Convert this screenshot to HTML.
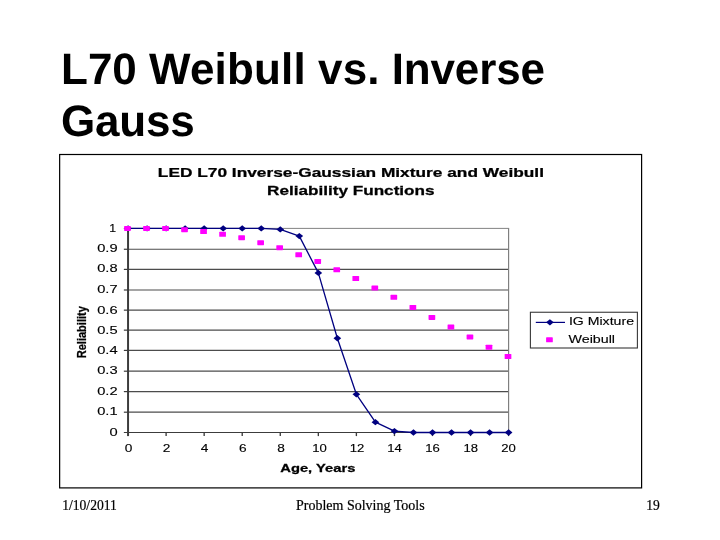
<!DOCTYPE html>
<html><head><meta charset="utf-8">
<style>
html,body{margin:0;padding:0;background:#fff;}
body{width:720px;height:540px;position:relative;overflow:hidden;font-family:"Liberation Sans",sans-serif;}
.t{position:absolute;left:61px;font:bold 44px/50px "Liberation Sans",sans-serif;color:#000;white-space:nowrap;text-rendering:geometricPrecision;}
svg{position:absolute;left:0;top:0;}
svg text{font-family:"Liberation Sans",sans-serif;fill:#000;}
svg text.f{font-family:"Liberation Serif",serif;stroke:#000;stroke-width:0.2px;}
</style></head><body>
<div class="t" style="top:45px">L70 <span style="letter-spacing:0.17px">Weibull</span> <span style="letter-spacing:0.05px">vs.</span> <span style="letter-spacing:-0.14px">Inverse</span></div>
<div class="t" style="top:97px;letter-spacing:-0.2px">Gauss</div>
<svg width="720" height="540" viewBox="0 0 720 540">
<rect x="59.65" y="154.5" width="581.95" height="333.4" fill="#fff" stroke="#000" stroke-width="1.2"/>

<g stroke="#4c4c4c" stroke-width="1.2" fill="none">
<line x1="128.05" y1="412.20" x2="508.60" y2="412.20"/>
<line x1="128.05" y1="391.60" x2="508.60" y2="391.60"/>
<line x1="128.05" y1="371.20" x2="508.60" y2="371.20"/>
<line x1="128.05" y1="350.40" x2="508.60" y2="350.40"/>
<line x1="128.05" y1="330.15" x2="508.60" y2="330.15"/>
<line x1="128.05" y1="310.15" x2="508.60" y2="310.15"/>
<line x1="128.05" y1="290.00" x2="508.60" y2="290.00"/>
<line x1="128.05" y1="269.40" x2="508.60" y2="269.40"/>
<line x1="128.05" y1="249.26" x2="508.60" y2="249.26"/>
<line x1="128.05" y1="228.4" x2="509.15" y2="228.4" stroke="#7c7c7c" stroke-width="0.95"/>
<line x1="508.60" y1="228.4" x2="508.60" y2="432.5" stroke="#7c7c7c" stroke-width="1.15"/>
</g>
<g stroke="#3c3c3c" fill="none">
<line x1="128.05" y1="228.4" x2="128.05" y2="436.1" stroke-width="2.0"/>
<line x1="123.85000000000001" y1="432.5" x2="508.60" y2="432.5" stroke-width="1.15"/>
</g>
<g stroke="#3c3c3c" fill="none">
<line x1="123.85000000000001" y1="412.20" x2="128.05" y2="412.20" stroke-width="1.2"/>
<line x1="123.85000000000001" y1="391.60" x2="128.05" y2="391.60" stroke-width="1.2"/>
<line x1="123.85000000000001" y1="371.20" x2="128.05" y2="371.20" stroke-width="1.2"/>
<line x1="123.85000000000001" y1="350.40" x2="128.05" y2="350.40" stroke-width="1.2"/>
<line x1="123.85000000000001" y1="330.15" x2="128.05" y2="330.15" stroke-width="1.2"/>
<line x1="123.85000000000001" y1="310.15" x2="128.05" y2="310.15" stroke-width="1.2"/>
<line x1="123.85000000000001" y1="290.00" x2="128.05" y2="290.00" stroke-width="1.2"/>
<line x1="123.85000000000001" y1="269.40" x2="128.05" y2="269.40" stroke-width="1.2"/>
<line x1="123.85000000000001" y1="249.26" x2="128.05" y2="249.26" stroke-width="1.2"/>
<line x1="123.85000000000001" y1="228.40" x2="128.05" y2="228.40" stroke-width="1.2"/>
<line x1="166.11" y1="432.5" x2="166.11" y2="436.1" stroke-width="1.35"/>
<line x1="204.16" y1="432.5" x2="204.16" y2="436.1" stroke-width="1.35"/>
<line x1="242.22" y1="432.5" x2="242.22" y2="436.1" stroke-width="1.35"/>
<line x1="280.27" y1="432.5" x2="280.27" y2="436.1" stroke-width="1.35"/>
<line x1="318.33" y1="432.5" x2="318.33" y2="436.1" stroke-width="1.35"/>
<line x1="356.38" y1="432.5" x2="356.38" y2="436.1" stroke-width="1.35"/>
<line x1="394.44" y1="432.5" x2="394.44" y2="436.1" stroke-width="1.35"/>
<line x1="432.49" y1="432.5" x2="432.49" y2="436.1" stroke-width="1.35"/>
<line x1="470.55" y1="432.5" x2="470.55" y2="436.1" stroke-width="1.35"/>
<line x1="508.60" y1="432.5" x2="508.60" y2="436.1" stroke-width="1.35"/>
</g>
<text transform="translate(117.60,435.75) scale(1.44,1)" font-size="10.2" text-anchor="end" stroke="#000" stroke-width="0.12">0</text>
<text transform="translate(117.60,415.45) scale(1.44,1)" font-size="10.2" text-anchor="end" stroke="#000" stroke-width="0.12">0.1</text>
<text transform="translate(117.60,394.85) scale(1.44,1)" font-size="10.2" text-anchor="end" stroke="#000" stroke-width="0.12">0.2</text>
<text transform="translate(117.60,374.45) scale(1.44,1)" font-size="10.2" text-anchor="end" stroke="#000" stroke-width="0.12">0.3</text>
<text transform="translate(117.60,353.65) scale(1.44,1)" font-size="10.2" text-anchor="end" stroke="#000" stroke-width="0.12">0.4</text>
<text transform="translate(117.60,333.80) scale(1.44,1)" font-size="10.2" text-anchor="end" stroke="#000" stroke-width="0.12">0.5</text>
<text transform="translate(117.60,313.60) scale(1.44,1)" font-size="10.2" text-anchor="end" stroke="#000" stroke-width="0.12">0.6</text>
<text transform="translate(117.60,293.05) scale(1.44,1)" font-size="10.2" text-anchor="end" stroke="#000" stroke-width="0.12">0.7</text>
<text transform="translate(117.60,272.25) scale(1.44,1)" font-size="10.2" text-anchor="end" stroke="#000" stroke-width="0.12">0.8</text>
<text transform="translate(117.60,251.51) scale(1.44,1)" font-size="10.2" text-anchor="end" stroke="#000" stroke-width="0.12">0.9</text>
<text transform="translate(116.10,232.30) scale(1.2,1)" font-size="10.2" text-anchor="end" stroke="#000" stroke-width="0.12">1</text>
<text transform="translate(128.55,451.90) scale(1.37,1)" font-size="10.0" text-anchor="middle" stroke="#000" stroke-width="0.12">0</text>
<text transform="translate(166.61,451.90) scale(1.37,1)" font-size="10.0" text-anchor="middle" stroke="#000" stroke-width="0.12">2</text>
<text transform="translate(204.66,451.90) scale(1.37,1)" font-size="10.0" text-anchor="middle" stroke="#000" stroke-width="0.12">4</text>
<text transform="translate(242.91,451.90) scale(1.37,1)" font-size="10.0" text-anchor="middle" stroke="#000" stroke-width="0.12">6</text>
<text transform="translate(281.17,451.90) scale(1.37,1)" font-size="10.0" text-anchor="middle" stroke="#000" stroke-width="0.12">8</text>
<text transform="translate(319.53,451.90) scale(1.31,1)" font-size="10.0" text-anchor="middle" stroke="#000" stroke-width="0.12">10</text>
<text transform="translate(356.98,451.90) scale(1.31,1)" font-size="10.0" text-anchor="middle" stroke="#000" stroke-width="0.12">12</text>
<text transform="translate(394.54,451.90) scale(1.31,1)" font-size="10.0" text-anchor="middle" stroke="#000" stroke-width="0.12">14</text>
<text transform="translate(432.59,451.90) scale(1.31,1)" font-size="10.0" text-anchor="middle" stroke="#000" stroke-width="0.12">16</text>
<text transform="translate(470.65,451.90) scale(1.31,1)" font-size="10.0" text-anchor="middle" stroke="#000" stroke-width="0.12">18</text>
<text transform="translate(508.60,451.90) scale(1.31,1)" font-size="10.0" text-anchor="middle" stroke="#000" stroke-width="0.12">20</text>
<text transform="translate(350.90,176.70) scale(1.396,1)" font-size="12.4" text-anchor="middle" font-weight="bold" stroke="#000" stroke-width="0.25">LED L70 Inverse-Gaussian Mixture and Weibull</text>
<text transform="translate(350.80,195.00) scale(1.393,1)" font-size="12.3" text-anchor="middle" font-weight="bold" stroke="#000" stroke-width="0.25">Reliability Functions</text>
<text transform="translate(317.80,471.60) scale(1.39,1)" font-size="10.6" text-anchor="middle" font-weight="bold" stroke="#000" stroke-width="0.25">Age, Years</text>
<text font-size="12.3" font-weight="bold" stroke="#000" stroke-width="0.25" text-anchor="middle" transform="translate(86.1,332.2) rotate(-90) scale(0.9,1)">Reliability</text>
<polyline points="128.05,228.40 147.08,228.40 166.11,228.40 185.13,228.40 204.16,228.40 223.19,228.40 242.22,228.40 261.24,228.40 280.27,229.44 299.30,236.12 318.33,272.90 337.35,338.25 356.38,394.28 375.41,422.15 394.44,431.08 413.46,432.50 432.49,432.50 451.52,432.50 470.55,432.50 489.57,432.50 508.60,432.50" fill="none" stroke="#000080" stroke-width="1.3" stroke-linejoin="round"/>
<g fill="#000080">
<path d="M128.05 225.25L131.90 228.40L128.05 231.55L124.20 228.40Z"/>
<path d="M147.08 225.25L150.93 228.40L147.08 231.55L143.23 228.40Z"/>
<path d="M166.11 225.25L169.96 228.40L166.11 231.55L162.26 228.40Z"/>
<path d="M185.13 225.25L188.98 228.40L185.13 231.55L181.28 228.40Z"/>
<path d="M204.16 225.25L208.01 228.40L204.16 231.55L200.31 228.40Z"/>
<path d="M223.19 225.25L227.04 228.40L223.19 231.55L219.34 228.40Z"/>
<path d="M242.22 225.25L246.06 228.40L242.22 231.55L238.37 228.40Z"/>
<path d="M261.24 225.25L265.09 228.40L261.24 231.55L257.39 228.40Z"/>
<path d="M280.27 226.29L284.12 229.44L280.27 232.59L276.42 229.44Z"/>
<path d="M299.30 232.97L303.15 236.12L299.30 239.27L295.45 236.12Z"/>
<path d="M318.33 269.75L322.18 272.90L318.33 276.05L314.48 272.90Z"/>
<path d="M337.35 335.10L341.20 338.25L337.35 341.40L333.50 338.25Z"/>
<path d="M356.38 391.13L360.23 394.28L356.38 397.43L352.53 394.28Z"/>
<path d="M375.41 419.00L379.26 422.15L375.41 425.30L371.56 422.15Z"/>
<path d="M394.44 427.93L398.29 431.08L394.44 434.23L390.58 431.08Z"/>
<path d="M413.46 429.35L417.31 432.50L413.46 435.65L409.61 432.50Z"/>
<path d="M432.49 429.35L436.34 432.50L432.49 435.65L428.64 432.50Z"/>
<path d="M451.52 429.35L455.37 432.50L451.52 435.65L447.67 432.50Z"/>
<path d="M470.55 429.35L474.40 432.50L470.55 435.65L466.69 432.50Z"/>
<path d="M489.57 429.35L493.42 432.50L489.57 435.65L485.72 432.50Z"/>
<path d="M508.60 429.35L512.45 432.50L508.60 435.65L504.75 432.50Z"/>
</g>
<g fill="#ff00ff">
<rect x="124.10" y="225.95" width="6.7" height="5.0" rx="0.6"/>
<rect x="143.13" y="225.95" width="6.7" height="5.0" rx="0.6"/>
<rect x="162.16" y="225.95" width="6.7" height="5.0" rx="0.6"/>
<rect x="181.18" y="227.20" width="6.7" height="5.0" rx="0.6"/>
<rect x="200.21" y="229.08" width="6.7" height="5.0" rx="0.6"/>
<rect x="219.24" y="231.79" width="6.7" height="5.0" rx="0.6"/>
<rect x="238.27" y="235.13" width="6.7" height="5.0" rx="0.6"/>
<rect x="257.29" y="240.13" width="6.7" height="5.0" rx="0.6"/>
<rect x="276.32" y="245.14" width="6.7" height="5.0" rx="0.6"/>
<rect x="295.35" y="252.25" width="6.7" height="5.0" rx="0.6"/>
<rect x="314.38" y="258.89" width="6.7" height="5.0" rx="0.6"/>
<rect x="333.40" y="267.36" width="6.7" height="5.0" rx="0.6"/>
<rect x="352.43" y="276.01" width="6.7" height="5.0" rx="0.6"/>
<rect x="371.46" y="285.49" width="6.7" height="5.0" rx="0.6"/>
<rect x="390.48" y="294.80" width="6.7" height="5.0" rx="0.6"/>
<rect x="409.51" y="304.88" width="6.7" height="5.0" rx="0.6"/>
<rect x="428.54" y="314.90" width="6.7" height="5.0" rx="0.6"/>
<rect x="447.57" y="324.50" width="6.7" height="5.0" rx="0.6"/>
<rect x="466.59" y="334.38" width="6.7" height="5.0" rx="0.6"/>
<rect x="485.62" y="344.71" width="6.7" height="5.0" rx="0.6"/>
<rect x="504.65" y="353.98" width="6.7" height="5.0" rx="0.6"/>
</g>
<rect x="530.4" y="312.25" width="107.0" height="35.75" fill="#fff" stroke="#383838" stroke-width="1.1"/>
<line x1="535.8" y1="322.4" x2="565" y2="322.4" stroke="#000080" stroke-width="1.2"/>
<g fill="#000080"><path d="M549.90 319.20L553.75 322.35L549.90 325.50L546.05 322.35Z"/></g>
<g fill="#ff00ff"><rect x="546.10" y="337.35" width="6.7" height="5.0" rx="0.6"/></g>
<text transform="translate(568.90,325.00) scale(1.345,1)" font-size="10.5" text-anchor="start" stroke="#000" stroke-width="0.12">IG Mixture</text>
<text transform="translate(568.50,342.50) scale(1.36,1)" font-size="10.5" text-anchor="start" stroke="#000" stroke-width="0.12">Weibull</text>
<text class="f" font-size="13.6" x="62.2" y="510">1/10/2011</text>
<text class="f" font-size="14" x="296" y="510">Problem Solving Tools</text>
<text class="f" font-size="13.6" x="646.2" y="510.1">19</text>
</svg>
</body></html>
